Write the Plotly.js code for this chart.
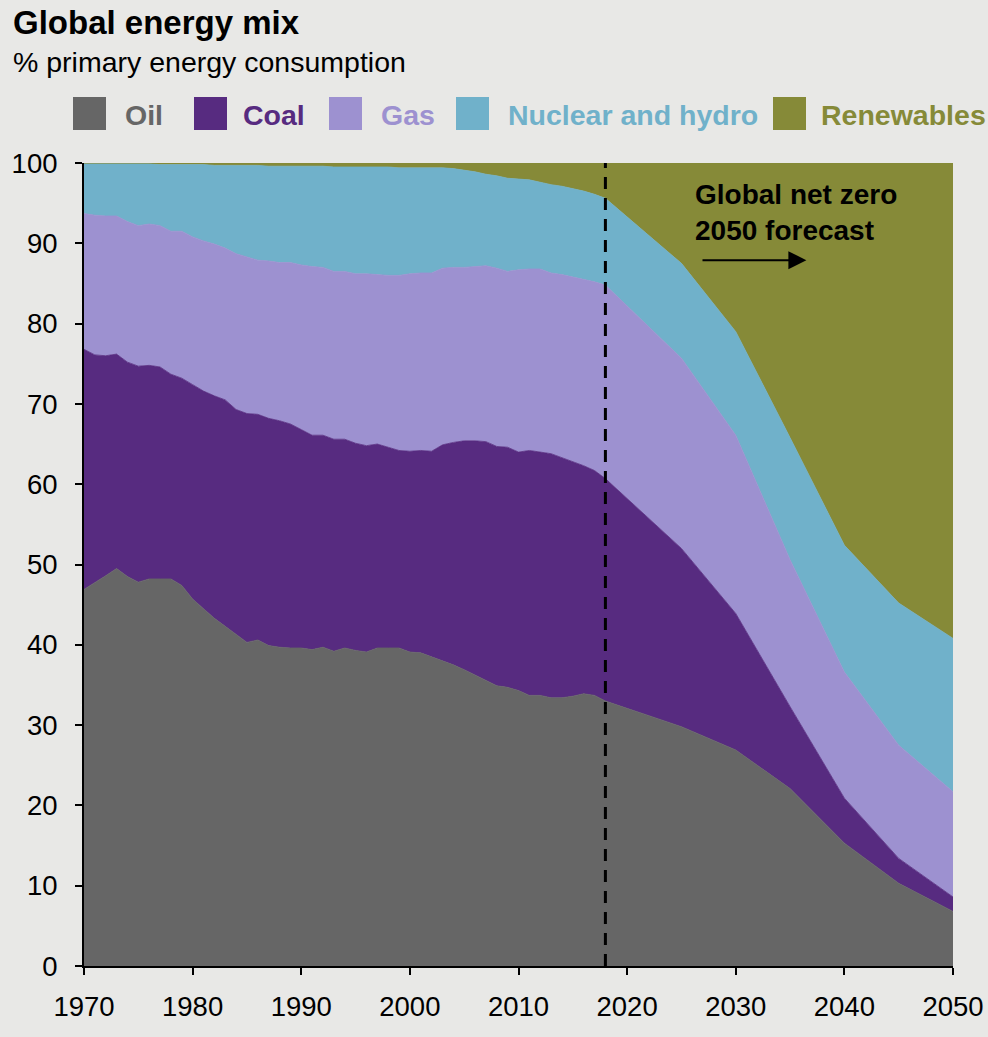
<!DOCTYPE html>
<html>
<head>
<meta charset="utf-8">
<script src="https://cdn.plot.ly/plotly-3.0.1.min.js"></script>
<style>
  html, body { margin: 0; padding: 0; background: #e8e8e6; }
  #chart { width: 988px; height: 1037px; }
</style>
</head>
<body>
<div id="chart"></div>
<script>
'use strict';

// Share of global primary energy consumption, %; historical to 2018, then net zero path
const years = [
  1970, 1971, 1972, 1973, 1974, 1975, 1976, 1977, 1978, 1979,
  1980, 1981, 1982, 1983, 1984, 1985, 1986, 1987, 1988, 1989,
  1990, 1991, 1992, 1993, 1994, 1995, 1996, 1997, 1998, 1999,
  2000, 2001, 2002, 2003, 2004, 2005, 2006, 2007, 2008, 2009,
  2010, 2011, 2012, 2013, 2014, 2015, 2016, 2017, 2018,
  2025, 2030, 2035, 2040, 2045, 2050
];
const oil = [
  46.9, 47.7, 48.6, 49.5, 48.5, 47.8, 48.2, 48.2, 48.2, 47.4,
  45.7, 44.5, 43.3, 42.3, 41.3, 40.3, 40.6, 39.9, 39.7, 39.6,
  39.6, 39.4, 39.7, 39.2, 39.6, 39.3, 39.1, 39.6, 39.6, 39.6,
  39.1, 39.0, 38.5, 38.0, 37.5, 36.9, 36.2, 35.6, 34.9, 34.7,
  34.3, 33.7, 33.7, 33.4, 33.4, 33.6, 33.9, 33.7, 33.0,
  29.8, 26.9, 22.1, 15.3, 10.3, 6.8
];
const coal = [
  29.9, 28.4, 27.4, 26.7, 26.7, 26.9, 26.6, 26.4, 25.5, 25.8,
  26.7, 27.1, 27.7, 28.2, 28.0, 28.5, 28.1, 28.3, 28.2, 27.9,
  27.2, 26.7, 26.4, 26.4, 26.0, 25.8, 25.7, 25.4, 25.0, 24.6,
  25.0, 25.2, 25.6, 26.9, 27.7, 28.5, 29.2, 29.7, 29.8, 29.9,
  29.7, 30.5, 30.3, 30.4, 29.9, 29.2, 28.4, 28.0, 27.7,
  22.2, 17.0, 10.2, 5.6, 3.1, 1.8
];
const gas = [
  16.9, 17.4, 17.4, 17.2, 17.5, 17.5, 17.6, 17.6, 17.8, 18.3,
  18.4, 18.7, 18.9, 18.9, 19.4, 19.5, 19.2, 19.6, 19.7, 20.1,
  20.5, 21.0, 20.9, 20.9, 20.9, 21.1, 21.4, 21.1, 21.4, 21.8,
  22.1, 22.1, 22.2, 22.0, 21.8, 21.6, 21.7, 21.9, 22.2, 21.9,
  22.7, 22.6, 22.8, 22.5, 22.8, 23.0, 23.2, 23.5, 24.1,
  23.7, 22.2, 18.3, 15.7, 14.1, 13.1
];
const nuclearHydro = [
  6.2, 6.4, 6.5, 6.5, 7.2, 7.7, 7.5, 7.6, 8.3, 8.3,
  9.0, 9.5, 9.8, 10.3, 11.0, 11.4, 11.8, 11.8, 12.0, 12.0,
  12.3, 12.5, 12.6, 13.0, 13.0, 13.3, 13.3, 13.4, 13.5, 13.4,
  13.2, 13.1, 13.1, 12.5, 12.3, 12.1, 11.8, 11.4, 11.5, 11.6,
  11.3, 11.1, 10.8, 11.0, 11.0, 11.0, 11.0, 10.9, 10.8,
  11.8, 12.9, 15.2, 15.8, 17.7, 19.1
];
const renewables = [
  0.1, 0.1, 0.1, 0.1, 0.1, 0.1, 0.1, 0.2, 0.2, 0.2,
  0.2, 0.2, 0.3, 0.3, 0.3, 0.3, 0.3, 0.4, 0.4, 0.4,
  0.4, 0.4, 0.4, 0.5, 0.5, 0.5, 0.5, 0.5, 0.5, 0.6,
  0.6, 0.6, 0.6, 0.6, 0.7, 0.9, 1.1, 1.4, 1.6, 1.9,
  2.0, 2.1, 2.4, 2.7, 2.9, 3.2, 3.5, 3.9, 4.4,
  12.5, 21.0, 34.2, 47.6, 54.8, 59.2
];

const seriesNames = ['Oil', 'Coal', 'Gas', 'Nuclear and hydro', 'Renewables'];
const seriesValues = [oil, coal, gas, nuclearHydro, renewables];
const seriesColors = ['#666666', '#572b80', '#9d91d0', '#70b1ca', '#868a38'];

const forecastStart = 2018;
const FONT = 'Liberation Sans, Arial, Helvetica, sans-serif';

// plot area in page pixels, used to place the text and legend around it
const plotL = 84, plotT = 163, plotW = 869, plotH = 803;
const px = x => (x - plotL) / plotW;
const py = y => 1 - (y - plotT) / plotH;

const traces = seriesNames.map((name, i) => ({
  x: years,
  y: seriesValues[i],
  name: name,
  type: 'scatter',
  mode: 'lines',
  stackgroup: 'mix',
  line: {color: seriesColors[i], width: 0.8},
  fillcolor: seriesColors[i],
  hoverinfo: 'skip'
}));

const legendBoxX = [73, 194, 329, 456, 773];
const legendTextX = [123, 241, 379, 506, 819];

const shapes = [{
  type: 'line', xref: 'x', yref: 'y',
  x0: forecastStart, x1: forecastStart, y0: 0, y1: 100,
  line: {color: '#000000', width: 3, dash: '12px,9px'},
  layer: 'above'
}];
const annotations = [
  {
    text: 'Global energy mix', xref: 'paper', yref: 'paper',
    x: px(11), y: py(23), xanchor: 'left', yanchor: 'middle', showarrow: false,
    font: {family: FONT, size: 33, weight: 700, color: '#000000'}
  },
  {
    text: '% primary energy consumption', xref: 'paper', yref: 'paper',
    x: px(11), y: py(62), xanchor: 'left', yanchor: 'middle', showarrow: false,
    font: {family: FONT, size: 28.5, color: '#000000'}
  },
  {
    text: 'Global net zero<br>2050 forecast', xref: 'paper', yref: 'paper',
    x: px(693), y: py(212), xanchor: 'left', yanchor: 'middle', align: 'left',
    showarrow: false,
    font: {family: FONT, size: 28, weight: 700, color: '#000000'}
  },
  {
    text: '', xref: 'x', yref: 'y', axref: 'x', ayref: 'y',
    x: 2036.5, y: 87.9, ax: 2026.8, ay: 87.9,
    showarrow: true, arrowhead: 2, arrowsize: 1.8, arrowwidth: 2, arrowcolor: '#000000'
  }
];

seriesNames.forEach((name, i) => {
  shapes.push({
    type: 'rect', xref: 'paper', yref: 'paper',
    x0: px(legendBoxX[i]), x1: px(legendBoxX[i] + 33), y0: py(130), y1: py(97),
    fillcolor: seriesColors[i], line: {width: 0}
  });
  annotations.push({
    text: name, xref: 'paper', yref: 'paper',
    x: px(legendTextX[i]), y: py(115), xanchor: 'left', yanchor: 'middle',
    showarrow: false,
    font: {family: FONT, size: 28.5, weight: 700, color: seriesColors[i]}
  });
});

const layout = {
  width: 988,
  height: 1037,
  margin: {l: plotL, r: 988 - plotL - plotW, t: plotT, b: 1037 - plotT - plotH},
  paper_bgcolor: '#e8e8e6',
  plot_bgcolor: '#e8e8e6',
  showlegend: false,
  font: {family: FONT, size: 27, color: '#000000'},
  xaxis: {
    range: [1970, 2050],
    tickvals: [1970, 1980, 1990, 2000, 2010, 2020, 2030, 2040, 2050],
    showgrid: false,
    zeroline: false,
    showline: true,
    linecolor: '#000000',
    linewidth: 2,
    ticks: 'outside',
    ticklen: 7,
    tickwidth: 2,
    tickcolor: '#000000',
    ticklabelstandoff: 8,
    tickfont: {family: FONT, size: 27.5}
  },
  yaxis: {
    range: [0, 100],
    dtick: 10,
    showgrid: false,
    zeroline: false,
    showline: true,
    linecolor: '#000000',
    linewidth: 2,
    ticks: 'outside',
    ticklen: 7,
    tickwidth: 2,
    tickcolor: '#000000',
    ticklabelstandoff: 12,
    tickfont: {family: FONT, size: 27.5}
  },
  shapes: shapes,
  annotations: annotations
};

Plotly.newPlot('chart', traces, layout, {displayModeBar: false, staticPlot: true});
</script>
</body>
</html>
